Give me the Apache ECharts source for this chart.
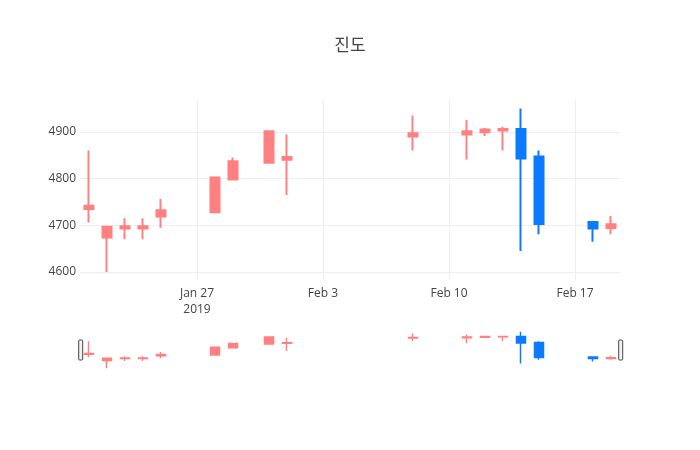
<!DOCTYPE html>
<html>
<head>
<meta charset="utf-8">
<script src="https://cdn.jsdelivr.net/npm/echarts@6/dist/echarts.min.js"></script>
<style>
html,body{margin:0;padding:0;background:#fff;}
#main{width:700px;height:450px;}
</style>
</head>
<body>
<div id="main"></div>
<script>
// daily candles (no weekends / holiday gaps)
var dates = ['2019-01-21','2019-01-22','2019-01-23','2019-01-24','2019-01-25','2019-01-28','2019-01-29','2019-01-31','2019-02-01','2019-02-08','2019-02-11','2019-02-12','2019-02-13','2019-02-14','2019-02-15','2019-02-18','2019-02-19'];
var openV  = [4735,4674,4693,4693,4719,4728,4798,4834,4840,4890,4894,4899,4903,4906,4847,4707,4694];
var closeV = [4742,4697,4698,4698,4732,4802,4837,4901,4846,4897,4901,4905,4906,4843,4703,4693,4702];
var lowV   = [4706,4600,4670,4670,4695,4728,4798,4834,4765,4860,4841,4891,4860,4645,4681,4665,4681];
var highV  = [4860,4697,4715,4715,4756,4804,4845,4901,4894,4935,4925,4908,4911,4950,4860,4707,4720];

var xTicks = ['2019-01-27','2019-02-03','2019-02-10','2019-02-17'];
var yTicks = [4600,4700,4800,4900];

function ts(s){
	var p = s.split('-');
	return new Date(+p[0], +p[1]-1, +p[2]).getTime();
}
var DAY = 86400000;
var xMin = ts(dates[0]) - DAY/2;
var xMax = ts(dates[dates.length-1]) + DAY/2;
var yMin = 4583, yMax = 4968;

var candles = [];
for(var i=0;i<dates.length;i++){
	candles.push([ts(dates[i]), openV[i], closeV[i], lowV[i], highV[i]]);
}
var tickVals = xTicks.map(ts);
var months = ['Jan','Feb','Mar','Apr','May','Jun','Jul','Aug','Sep','Oct','Nov','Dec'];

var up = '#ff8080', down = '#0a7bff';
var font = '"Open Sans", sans-serif';

var myChart = echarts.init(document.getElementById('main'));
var option = {
	animation:false,
	backgroundColor:'#fff',
	title:{
		text:'진도',
		left:'center',
		top:31,
		textStyle:{fontFamily:'"Noto Sans CJK KR", sans-serif',fontSize:17,fontWeight:'normal',color:'#444'}
	},
	grid:[
		{left:80,right:80,top:100,height:180},
		{left:80,right:80,top:330,height:40}
	],
	xAxis:[
		{
			type:'value',gridIndex:0,min:xMin,max:xMax,
			axisLine:{show:false},
			axisTick:{show:true,inside:true,length:180,lineStyle:{color:'#eee',width:1},customValues:tickVals},
			splitLine:{show:false},
			axisLabel:{
				customValues:tickVals,
				color:'#444',fontFamily:font,fontSize:12,margin:6,lineHeight:16,
				formatter:function(v){
					var d = new Date(v);
					var t = months[d.getMonth()]+' '+d.getDate();
					if(v===tickVals[0]) t += '\n'+d.getFullYear();
					return t;
				}
			}
		},
		{type:'value',gridIndex:1,min:xMin,max:xMax,show:false}
	],
	yAxis:[
		{
			type:'value',gridIndex:0,min:yMin,max:yMax,
			axisLine:{show:false},
			axisTick:{show:true,inside:true,length:540,lineStyle:{color:'#eee',width:1},customValues:yTicks},
			splitLine:{show:false},
			axisLabel:{customValues:yTicks,color:'#444',fontFamily:font,fontSize:12,margin:4,
				formatter:function(v){return String(v);}}
		},
		{type:'value',gridIndex:1,min:yMin,max:yMax,show:false}
	],
	dataZoom:[{
		type:'slider',xAxisIndex:0,filterMode:'none',start:0,end:100,
		left:79,right:79,top:340,height:20,
		showDetail:false,showDataShadow:false,brushSelect:false,
		moveHandleSize:0,
		backgroundColor:'rgba(0,0,0,0)',borderColor:'rgba(0,0,0,0)',fillerColor:'rgba(0,0,0,0)',
		handleIcon:'path://M2,0 h4 a2,2 0 0 1 2,2 v36 a2,2 0 0 1 -2,2 h-4 a2,2 0 0 1 -2,-2 v-36 a2,2 0 0 1 2,-2 z',
		handleSize:'100%',
		handleStyle:{color:'#f2f2f2',borderColor:'#444',borderWidth:1},
		emphasis:{handleStyle:{color:'#f2f2f2',borderColor:'#444'}}
	}],
	series:[
		{
			type:'candlestick',xAxisIndex:0,yAxisIndex:0,
			barWidth:10,
			encode:{x:0,y:[1,2,3,4]},
			itemStyle:{color:up,color0:down,borderColor:up,borderColor0:down,borderWidth:2},
			data:candles
		},
		{
			type:'candlestick',xAxisIndex:1,yAxisIndex:1,
			barWidth:10,silent:true,
			encode:{x:0,y:[1,2,3,4]},
			itemStyle:{color:up,color0:down,borderColor:up,borderColor0:down,borderWidth:1.5},
			data:candles
		}
	]
};
myChart.setOption(option);
</script>
</body>
</html>
